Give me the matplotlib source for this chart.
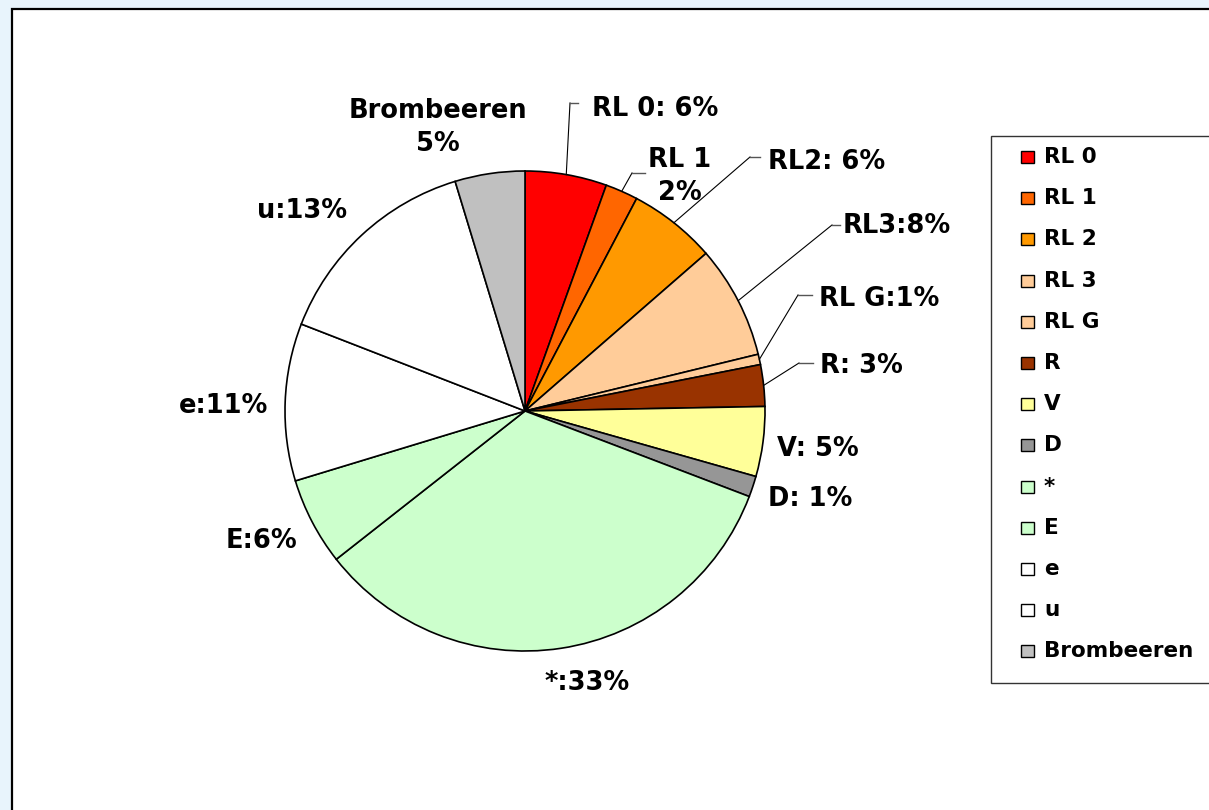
import numpy as np
import matplotlib
matplotlib.use("Agg")
import matplotlib.pyplot as plt
from matplotlib.patches import Rectangle

# ---- data ----
categories = ["RL 0", "RL 1", "RL 2", "RL 3", "RL G", "R", "V", "D", "*", "E", "e", "u", "Brombeeren"]
values = [5.5, 2.2, 5.9, 7.6, 0.7, 2.8, 4.7, 1.4, 33.6, 5.9, 10.6, 14.4, 4.7]
pie_labels = ["RL 0: 6%", "RL 1\n2%", "RL2: 6%", "RL3:8%", "RL G:1%", "R: 3%", "V: 5%",
              "D: 1%", "*:33%", "E:6%", "e:11%", "u:13%", "Brombeeren\n5%"]
colors = ["#FF0000", "#FF6600", "#FF9900", "#FFCC99", "#FFCC99", "#993300", "#FFFF99",
          "#969696", "#CCFFCC", "#CCFFCC", "#FFFFFF", "#FFFFFF", "#C0C0C0"]

# ---- layout (pixel coordinates, y measured from top) ----
W, H = 1209, 810
cx, cy, R = 525, 411, 240
# label anchor: (x, baseline_y, ha)
label_pos = [
    (592, 116, "left"),
    (680, 167, "center"),
    (768, 169, "left"),
    (843, 233, "left"),
    (819, 306, "left"),
    (820, 373, "left"),
    (777, 456, "left"),
    (768, 506, "left"),
    (545, 690, "left"),
    (297, 548, "right"),
    (268, 413, "right"),
    (347, 218, "right"),
    (438, 118, "center"),
]
line_gap = 33
# leader lines: elbow point and end of horizontal segment (None = no leader)
leaders = [
    ((570, 103), (578, 103)),
    ((632, 173), (645, 173)),
    ((750, 157), (760, 157)),
    ((832, 225), (840, 225)),
    ((798, 295), (812, 295)),
    ((799, 363), (813, 363)),
    None, None, None, None, None, None, None,
]

fig = plt.figure(figsize=(W / 100, H / 100), dpi=100)
fig.patch.set_facecolor("#E8F4FC")
ax = fig.add_axes([0, 0, 1, 1])

# white panel with black top/left border
ax.add_patch(Rectangle((12, 9), 1250, 850, facecolor="white", edgecolor="black",
                       linewidth=1.6, zorder=0))

wedges, _ = ax.pie(values, colors=colors, startangle=-90, counterclock=True,
                   center=(cx, cy), radius=R, frame=True,
                   wedgeprops=dict(edgecolor="black", linewidth=1.2))

ax.set_xlim(0, W)
ax.set_ylim(H, 0)
ax.set_aspect("equal")
ax.axis("off")

# labels and leaders
total = sum(values)
cum = 0.0
for i, (lab, v) in enumerate(zip(pie_labels, values)):
    mid = (cum + v / 2) / total * 2 * np.pi
    cum += v
    x, yb, ha = label_pos[i]
    for j, line in enumerate(lab.split("\n")):
        ax.text(x, yb + j * line_gap, line, ha=ha, va="baseline",
                fontsize=18.5, fontweight="bold", family="DejaVu Sans", color="black")
    if leaders[i] is not None:
        sx = cx + R * np.sin(mid)
        sy = cy - R * np.cos(mid)
        (ex, ey), (hx, hy) = leaders[i]
        ax.plot([sx, ex], [sy, ey], color="black", linewidth=0.8)
        ax.plot([ex, hx], [ey, hy], color="#555555", linewidth=1.0)

# legend box
lx0, ly0, ly1 = 991, 136, 683
ax.add_patch(Rectangle((lx0, ly0), 400, ly1 - ly0, facecolor="white",
                       edgecolor="#333333", linewidth=1.0, zorder=1))
base0, step = 163, 41.2
for i, (cat, col) in enumerate(zip(categories, colors)):
    yb = base0 + i * step
    ax.add_patch(Rectangle((1021, yb - 12), 13, 12, facecolor=col,
                           edgecolor="black", linewidth=1.0, zorder=2))
    ax.text(1044, yb, cat, ha="left", va="baseline", fontsize=15.5,
            fontweight="bold", family="DejaVu Sans", color="black", zorder=3)

fig.savefig("out.png", dpi=100, facecolor=fig.get_facecolor())
